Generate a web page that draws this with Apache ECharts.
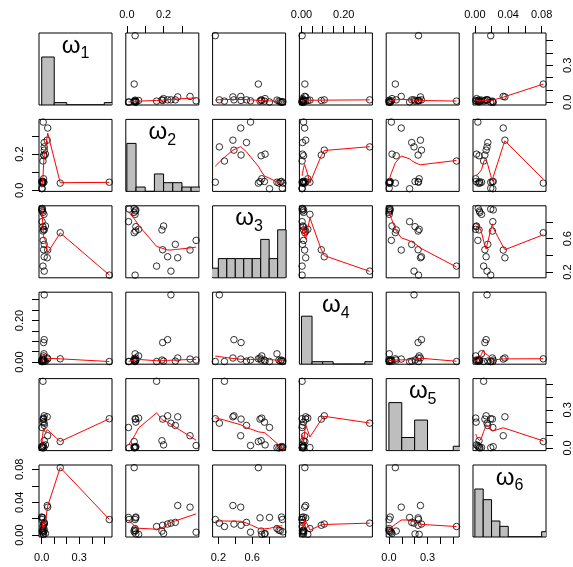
<!DOCTYPE html>
<html>
<head>
<meta charset="utf-8">
<script src="https://cdn.jsdelivr.net/npm/echarts@6.0.0/dist/echarts.min.js"></script>
<style>
html, body { margin: 0; background: #fff; }
#chart { width: 573px; height: 567px; }
</style>
</head>
<body>
<div id="chart"></div>
<script>
// 22 observations of the six weights
var w1 = [0.54, 0.02, 0.01, 0.044, 0.02, 0.048, 0.015, 0.02, 0.012, 0.148, 0.01,
          0.02, 0.015, 0.01, 0.03, 0.003, 0.018, 0.01, 0.005, 0.0, 0.002, 0.005];
var w2 = [0.045, 0.24, 0.162, 0.277, 0.222, 0.344, 0.195, 0.264, 0.377, 0.04, 0.048,
          0.191, 0.064, 0.049, 0.20, 0.009, 0.045, 0.04, 0.047, 0.049, 0.012, 0.04];
var w3 = [0.164, 0.212, 0.272, 0.372, 0.384, 0.464, 0.468, 0.532, 0.58, 0.672, 0.692,
          0.705, 0.712, 0.744, 0.752, 0.804, 0.892, 0.915, 0.932, 0.945, 0.955, 0.962];
var w4 = [0.003, 0.323, 0.003, 0.02, 0.108, 0.015, 0.094, 0.005, 0.01, 0.016, 0.02,
          0.01, 0.03, 0.01, 0.005, 0.003, 0.04, 0.01, 0.005, 0.01, 0.003, 0.006];
var w5 = [0.23, 0.195, 0.525, 0.245, 0.253, 0.096, 0.227, 0.177, 0.019, 0.05, 0.227,
          0.057, 0.235, 0.203, 0.024, 0.161, 0.003, 0.0, 0.005, 0.01, 0.002, 0.008];
var w6 = [0.019, 0.0146, 0.0105, 0.036, 0.0135, 0.034, 0.012, 0.0155, 0.0036, 0.082, 0.021,
          0.005, 0.001, 0.0015, 0.002, 0.0215, 0.008, 0.006, 0.0055, 0.022, 0.019, 0.004];

var labels = ['1', '2', '3', '4', '5', '6'];

// histogram breaks
var breaks1 = [0, 0.1, 0.2, 0.3, 0.4, 0.5, 0.6];
var breaks2 = [0, 0.05, 0.1, 0.15, 0.2, 0.25, 0.3, 0.35, 0.4];
var breaks3 = [0.1, 0.2, 0.3, 0.4, 0.5, 0.6, 0.7, 0.8, 0.9, 1.0];
var breaks4 = [0, 0.05, 0.1, 0.15, 0.2, 0.25, 0.3, 0.35];
var breaks5 = [0, 0.1, 0.2, 0.3, 0.4, 0.5, 0.6];
var breaks6 = [0, 0.01, 0.02, 0.03, 0.04, 0.05, 0.06, 0.07, 0.08, 0.09];

// axis ticks and labelled ticks
var ticks1 = [0, 0.1, 0.2, 0.3, 0.4, 0.5],  tickLab1 = [0, 0.3];
var ticks2 = [0, 0.1, 0.2, 0.3],            tickLab2 = [0, 0.2];
var ticks3 = [0.2, 0.4, 0.6, 0.8],          tickLab3 = [0.2, 0.6];
var ticks4 = [0, 0.05, 0.1, 0.15, 0.2, 0.25, 0.3], tickLab4 = [0, 0.2];
var ticks5 = [0, 0.1, 0.2, 0.3, 0.4, 0.5],  tickLab5 = [0, 0.3];
var ticks6 = [0, 0.02, 0.04, 0.06, 0.08],   tickLab6 = [0, 0.04, 0.08];

var vars = [w1, w2, w3, w4, w5, w6];
var allBreaks = [breaks1, breaks2, breaks3, breaks4, breaks5, breaks6];
var allTicks = [ticks1, ticks2, ticks3, ticks4, ticks5, ticks6];
var allTickLab = [tickLab1, tickLab2, tickLab3, tickLab4, tickLab5, tickLab6];
var digits = [1, 1, 1, 2, 1, 2];

// layout of the panels
var left0 = 39, stepX = 86.8, panelW = 73;
var top0 = 33, stepY = 86.4, panelH = 72;
var FONT = 'Liberation Sans';

// R lowess (clowess port), arrays 1-based
function lowest(x, y, n, xs, nleft, nright, w, userw, rw) {
    var range = x[n] - x[1];
    var h = Math.max(xs - x[nleft], x[nright] - xs);
    var h9 = 0.999 * h, h1 = 0.001 * h, a = 0, j = nleft, r;
    while (j <= n) {
        w[j] = 0;
        r = Math.abs(x[j] - xs);
        if (r <= h9) {
            w[j] = r <= h1 ? 1 : Math.pow(1 - Math.pow(r / h, 3), 3);
            if (userw) w[j] *= rw[j];
            a += w[j];
        } else if (x[j] > xs) break;
        j++;
    }
    var nrt = j - 1;
    if (a <= 0) return null;
    for (j = nleft; j <= nrt; j++) w[j] /= a;
    if (h > 0) {
        a = 0;
        for (j = nleft; j <= nrt; j++) a += w[j] * x[j];
        var b = xs - a, c = 0;
        for (j = nleft; j <= nrt; j++) c += w[j] * (x[j] - a) * (x[j] - a);
        if (Math.sqrt(c) > 0.001 * range) {
            b /= c;
            for (j = nleft; j <= nrt; j++) w[j] *= (b * (x[j] - a) + 1);
        }
    }
    var ys = 0;
    for (j = nleft; j <= nrt; j++) ys += w[j] * y[j];
    return ys;
}

function clowess(x, y, n, f, nsteps, delta) {
    var ys = [], rw = [], res = [], i, j;
    for (i = 0; i <= n; i++) { ys[i] = 0; rw[i] = 1; res[i] = 0; }
    var ns = Math.max(2, Math.min(n, Math.floor(f * n + 1e-7)));
    for (var iter = 1; iter <= nsteps + 1; iter++) {
        var nleft = 1, nright = ns, last = 0;
        i = 1;
        for (;;) {
            if (nright < n) {
                var d1 = x[i] - x[nleft], d2 = x[nright + 1] - x[i];
                if (d1 > d2) { nleft++; nright++; continue; }
            }
            var v = lowest(x, y, n, x[i], nleft, nright, res, iter > 1, rw);
            ys[i] = v === null ? y[i] : v;
            if (last < i - 1) {
                var denom = x[i] - x[last];
                for (j = last + 1; j < i; j++) {
                    var alpha = (x[j] - x[last]) / denom;
                    ys[j] = alpha * ys[i] + (1 - alpha) * ys[last];
                }
            }
            last = i;
            var cut = x[last] + delta;
            for (i = last + 1; i <= n; i++) {
                if (x[i] > cut) break;
                if (x[i] === x[last]) { ys[i] = ys[last]; last = i; }
            }
            i = Math.max(last + 1, i - 1);
            if (last >= n) break;
        }
        var resid = [], sc = 0;
        for (i = 1; i <= n; i++) { resid[i] = y[i] - ys[i]; sc += Math.abs(resid[i]); }
        sc /= n;
        if (iter > nsteps) break;
        var sorted = resid.slice(1).map(Math.abs).sort(function (a, b) { return a - b; });
        var m1 = Math.floor(n / 2), cmad;
        if (n % 2 === 0) cmad = 3 * (sorted[m1] + sorted[n - m1 - 1]);
        else cmad = 6 * sorted[m1];
        if (cmad < 1e-7 * sc) break;
        var c9 = 0.999 * cmad, c1 = 0.001 * cmad;
        for (i = 1; i <= n; i++) {
            var r = Math.abs(resid[i]);
            rw[i] = r <= c1 ? 1 : (r <= c9 ? Math.pow(1 - Math.pow(r / cmad, 2), 2) : 0);
        }
    }
    return ys;
}

function lowess(xv, yv) {
    var n = xv.length;
    var idx = xv.map(function (v, k) { return k; });
    idx.sort(function (a, b) { return xv[a] - xv[b]; });
    var x = [NaN], y = [NaN];
    idx.forEach(function (k) { x.push(xv[k]); y.push(yv[k]); });
    var ys = clowess(x, y, n, 2 / 3, 3, 0.01 * (x[n] - x[1]));
    var out = [];
    for (var i = 1; i <= n; i++) out.push([x[i], ys[i]]);
    return out;
}

function histogram(v, br) {
    var counts = br.slice(1).map(function () { return 0; });
    v.forEach(function (val) {
        for (var b = 0; b < counts.length; b++) {
            if ((b === 0 && val >= br[0] && val <= br[1]) || (val > br[b] && val <= br[b + 1])) {
                counts[b]++; break;
            }
        }
    });
    var mx = Math.max.apply(null, counts);
    return counts.map(function (c, b) { return [br[b], br[b + 1], c / mx]; });
}

function padRange(v) {
    var lo = Math.min.apply(null, v), hi = Math.max.apply(null, v);
    var d = (hi - lo) * 0.04;
    return [lo - d, hi + d];
}
var ranges = vars.map(padRange);

var measureCtx = document.createElement('canvas').getContext('2d');
function textWidth(t, size) {
    measureCtx.font = size + 'px "' + FONT + '"';
    return measureCtx.measureText(t).width;
}

function axisCfg(d, pos, isY) {
    var shown = pos !== null;
    var margin = { top: 13, bottom: 15, left: 14, right: 16 }[pos] || 8;
    return {
        type: 'value',
        position: pos || (isY ? 'left' : 'bottom'),
        min: ranges[d][0], max: ranges[d][1],
        axisLine: { show: false, onZero: false },
        splitLine: { show: false },
        axisTick: {
            show: shown, inside: false, length: 7,
            lineStyle: { color: '#000', width: 1 },
            customValues: allTicks[d]
        },
        axisLabel: {
            show: shown, customValues: allTickLab[d],
            formatter: function (val) { return val.toFixed(digits[d]); },
            color: '#000', fontSize: 11, fontFamily: FONT,
            margin: margin, rotate: isY ? 90 : 0
        }
    };
}

var grids = [], xAxes = [], yAxes = [], series = [], graphics = [];
for (var i = 0; i < 6; i++) {
    for (var j = 0; j < 6; j++) {
        var k = i * 6 + j;
        grids.push({
            left: left0 + j * stepX, top: top0 + i * stepY,
            width: panelW, height: panelH,
            show: true, borderColor: '#000', borderWidth: 1, backgroundColor: 'transparent'
        });
        var xPos = null, yPos = null;
        if (i === 0 && j % 2 === 1) xPos = 'top';
        if (i === 5 && j % 2 === 0) xPos = 'bottom';
        if (j === 0 && i % 2 === 1) yPos = 'left';
        if (j === 5 && i % 2 === 0) yPos = 'right';
        var xa = axisCfg(j, xPos, false);
        xa.gridIndex = k;
        xAxes.push(xa);
        if (i === j) {
            yAxes.push({
                type: 'value', gridIndex: k, min: 0, max: 1.5,
                axisLine: { show: false, onZero: false }, axisTick: { show: false },
                axisLabel: { show: false }, splitLine: { show: false }
            });
            series.push({
                type: 'custom', xAxisIndex: k, yAxisIndex: k, clip: true, silent: true,
                data: histogram(vars[i], allBreaks[i]),
                renderItem: function (params, api) {
                    var p0 = api.coord([api.value(0), api.value(2)]);
                    var p1 = api.coord([api.value(1), 0]);
                    return {
                        type: 'rect',
                        shape: { x: p0[0], y: p0[1], width: p1[0] - p0[0], height: p1[1] - p0[1] },
                        style: { fill: '#bebebe', stroke: '#000', lineWidth: 1 }
                    };
                }
            });
            // diagonal label
            var cx = left0 + j * stepX + panelW / 2, cy = top0 + i * stepY + 13;
            var wW = textWidth('ω', 24), sW = textWidth(labels[i], 16);
            var x0 = cx - (wW + sW) / 2;
            graphics.push({
                type: 'text', x: x0, y: cy, silent: true,
                style: { text: 'ω', fontSize: 24, fontFamily: FONT, fill: '#000',
                         textAlign: 'left', textVerticalAlign: 'middle' }
            });
            graphics.push({
                type: 'text', x: x0 + wW, y: cy + 8, silent: true,
                style: { text: labels[i], fontSize: 16, fontFamily: FONT, fill: '#000',
                         textAlign: 'left', textVerticalAlign: 'middle' }
            });
        } else {
            var ya = axisCfg(i, yPos, true);
            ya.gridIndex = k;
            yAxes.push(ya);
            var pts = vars[j].map(function (xv, n) { return [xv, vars[i][n]]; });
            series.push({
                type: 'scatter', xAxisIndex: k, yAxisIndex: k, silent: true, clip: false,
                symbol: 'circle', symbolSize: 6.5, data: pts,
                itemStyle: { color: 'rgba(0,0,0,0)', borderColor: '#000', borderWidth: 1 }
            });
            series.push({
                type: 'line', xAxisIndex: k, yAxisIndex: k, silent: true, clip: true,
                showSymbol: false, symbol: 'none', data: lowess(vars[j], vars[i]),
                lineStyle: { color: '#ff0000', width: 1 }
            });
        }
    }
}

var chart = echarts.init(document.getElementById('chart'));
chart.setOption({
    animation: false,
    backgroundColor: '#fff',
    grid: grids,
    xAxis: xAxes,
    yAxis: yAxes,
    series: series,
    graphic: graphics
});
</script>
</body>
</html>
